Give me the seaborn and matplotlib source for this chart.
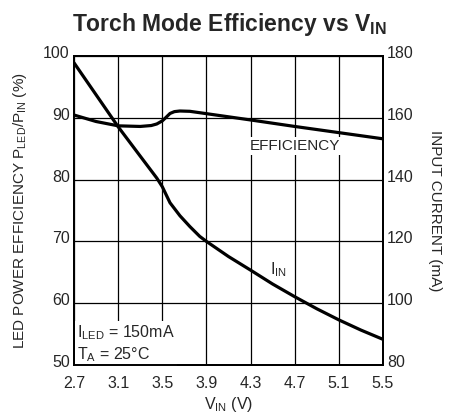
import pandas as pd
import matplotlib
matplotlib.use("Agg")
import matplotlib.pyplot as plt
from matplotlib import font_manager
from matplotlib.transforms import ScaledTranslation
import seaborn as sns

# efficiency curve (left axis, %)
vin_eff = [2.7, 2.9, 3.1, 3.3, 3.4, 3.45, 3.5, 3.53, 3.57, 3.61, 3.66, 3.75, 3.9, 4.3, 4.7, 5.1, 5.5]
eff = [90.45, 89.4, 88.7, 88.6, 88.75, 89.0, 89.5, 90.0, 90.7, 91.0, 91.1, 91.05, 90.67, 89.65, 88.6, 87.6, 86.6]

# input current curve (right axis, mA)
vin_cur = [2.7, 3.1, 3.3, 3.45, 3.5, 3.57, 3.66, 3.75, 3.84, 3.9, 4.1, 4.3, 4.5, 4.7, 4.9, 5.1, 5.3, 5.5]
cur = [177.8, 157.1, 147.6, 140.5, 137.7, 132.5, 128.3, 124.8, 121.6, 120.0, 115.1, 110.7, 106.2, 102.1, 98.2, 94.6, 91.3, 88.3]

x_ticks = [2.7, 3.1, 3.5, 3.9, 4.3, 4.7, 5.1, 5.5]
left_ticks = [50, 60, 70, 80, 90, 100]
right_ticks = [80, 100, 120, 140, 160, 180]

df_eff = pd.DataFrame({"vin": vin_eff, "eff": eff})
df_cur = pd.DataFrame({"vin": vin_cur, "cur": cur})

sns.set_style("white")
names = {f.name for f in font_manager.fontManager.ttflist}
font = "Liberation Sans Narrow" if "Liberation Sans Narrow" in names else "Liberation Sans"
plt.rcParams["font.family"] = [font, "DejaVu Sans"]
plt.rcParams["mathtext.fontset"] = "custom"
plt.rcParams["mathtext.rm"] = font
plt.rcParams["mathtext.it"] = font
plt.rcParams["mathtext.bf"] = font + ":bold"

fig = plt.figure(figsize=(4.58, 4.15), dpi=100)
ax = fig.add_axes([74 / 458, 1 - 365 / 415, 309 / 458, 309 / 415])
ax2 = ax.twinx()

sns.lineplot(data=df_eff, x="vin", y="eff", ax=ax, color="black", linewidth=2.3, zorder=3)
sns.lineplot(data=df_cur, x="vin", y="cur", ax=ax2, color="black", linewidth=2.3, zorder=3)

ax.set_xlim(2.7, 5.5)
ax.set_ylim(50, 100)
ax2.set_ylim(80, 180)
ax.set_xticks(x_ticks)
ax.set_xticklabels([f"{v:.1f}" for v in x_ticks])
ax.set_yticks(left_ticks)
ax2.set_yticks(right_ticks)
ax.grid(True, color="black", linewidth=0.9)
ax.set_axisbelow(True)
for a in (ax, ax2):
    a.tick_params(length=0, labelsize=11.5, pad=3)
    for s in a.spines.values():
        s.set_color("black")
        s.set_linewidth(1.4)
ax.tick_params(axis="x", pad=8)

# y tick labels sit a little above their grid lines
shift = ScaledTranslation(0, 4 / 100, fig.dpi_scale_trans)
for lab in ax.get_yticklabels() + ax2.get_yticklabels():
    lab.set_transform(lab.get_transform() + shift)

ax.set_xlabel(r"V$_{\rm IN}$ (V)", fontsize=11.5, labelpad=3)
ax.set_ylabel(r"LED POWER EFFICIENCY P$_{\rm LED}$/P$_{\rm IN}$ (%)", fontsize=11, labelpad=10)
ax2.set_ylabel("INPUT CURRENT (mA)", fontsize=11, rotation=-90, labelpad=20)

ax.text(4.70, 85.4, "EFFICIENCY", fontsize=11, ha="center", va="center", zorder=5,
        bbox=dict(facecolor="white", edgecolor="none", pad=1.5))
ax.text(4.55, 65.4, r"I$_{\rm IN}$", fontsize=11.5, ha="center", va="center", zorder=5)
ax.text(2.73, 53.4, "I$_{\\rm LED}$ = 150mA\nT$_{\\rm A}$ = 25°C", fontsize=11.5, ha="left", va="center",
        linespacing=1.25, zorder=5,
        bbox=dict(facecolor="white", edgecolor="none", pad=1.5))

fig.text(0.5, 1 - 24 / 415, r"Torch Mode Efficiency vs V$_{\bf IN}$", fontsize=16.5,
         fontweight="bold", ha="center", va="center")

fig.savefig("out.png", dpi=100)
